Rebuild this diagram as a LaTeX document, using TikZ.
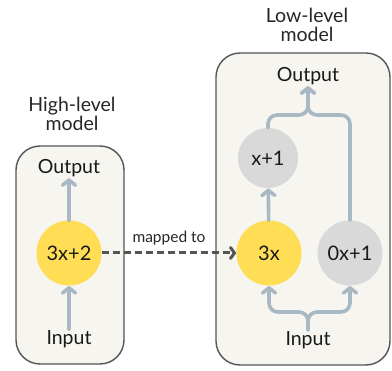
\documentclass[tikz,border=0pt]{standalone}
\usepackage{fontspec}
\setmainfont{Lato}
\usetikzlibrary{arrows.meta, positioning}
\definecolor{boxfill}{HTML}{F6F5F0}
\definecolor{boxline}{HTML}{555555}
\definecolor{hiyellow}{HTML}{FFDD55}
\definecolor{nodegray}{HTML}{D9D9D9}
\definecolor{flowblue}{HTML}{A9B9C3}
\definecolor{mapgray}{HTML}{555555}
\tikzset{
    % Model containers
    modelbox/.style={rectangle, rounded corners=24pt, draw=boxline, fill=boxfill,
                line width=1.4pt},
    modeltitle/.style={align=center, font=\fontsize{19.5}{19}\selectfont, text=black!85},
    % Function nodes
    fnode/.style={circle, fill=#1, minimum size=65pt, inner sep=0pt,
                font=\fontsize{20}{21}\selectfont, text=black!90},
    iolbl/.style={font=\fontsize{19.5}{20}\selectfont, text=black!90, inner sep=1pt},
    % Connectors
    flow/.style={-{Straight Barb[length=5pt, width=13pt, line cap=round]}, line width=3.6pt,
                flowblue, line cap=round, rounded corners=9pt},
    maparrow/.style={-{Straight Barb[length=4pt, width=11pt, line cap=round]}, line width=3pt,
                mapgray, dash pattern=on 7pt off 4pt},
}
\begin{document}
\begin{tikzpicture}[x=1pt, y=-1pt]
\useasboundingbox (0,0) rectangle (392,371);
% High-level model
\node[modelbox, minimum width=108pt, minimum height=218pt] (hbox) at (70,255) {};
\node[modeltitle] (htitle) at (72,114) {High-level\\model};
\node[fnode=hiyellow] (hf) at (69,253) {3x+2};
\node[iolbl] (hout) at (69,168) {Output};
\node[iolbl] (hin) at (69,339) {Input};
\draw[flow] (hin) -- (hf);
\draw[flow] (hf) -- (hout);
% Low-level model
\node[modelbox, minimum width=174pt, minimum height=312pt] (lbox) at (303,209) {};
\node[modeltitle] (ltitle) at (307,25) {Low-level\\model};
\node[iolbl] (lout) at (308,76) {Output};
\node[fnode=nodegray, minimum size=60pt] (lp) at (268,158) {x+1};
\node[fnode=hiyellow] (lm) at (269,253) {3x};
\node[fnode=nodegray] (lz) at (350,253) {0x+1};
\node[iolbl] (lin) at (308,340) {Input};
\coordinate (mo) at (308,115);
\coordinate (mi) at (308,312);
\draw[flow] (lm) -- (lp);
\draw[flow] (lp.north) |- (mo) -- (lout.south);
\draw[flow] (lz.north) |- (mo) -- (lout.south);
\draw[flow] (lin.north) -- (mi) -| (lm.south);
\draw[flow] (lin.north) -- (mi) -| (lz.south);
% Mapping
\draw[maparrow] (hf) -- (lm) node[midway, above=3pt, font=\fontsize{15.5}{16}\selectfont, text=black!85] (maplbl) {mapped to};
\end{tikzpicture}
\end{document}
